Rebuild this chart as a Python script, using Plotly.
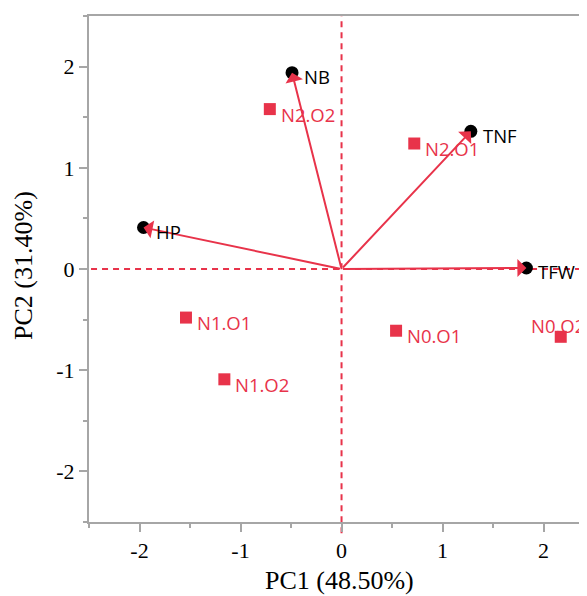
import plotly.graph_objects as go

# Loadings (variables)
var_names = ["NB", "TNF", "HP", "TFW"]
var_pc1 = [-0.49, 1.28, -1.96, 1.83]
var_pc2 = [1.94, 1.36, 0.41, 0.01]

# Scores (samples)
smp_names = ["N2.O2", "N2.O1", "N1.O1", "N1.O2", "N0.O1", "N0.O2"]
smp_pc1 = [-0.71, 0.72, -1.54, -1.16, 0.54, 2.17]
smp_pc2 = [1.58, 1.24, -0.48, -1.09, -0.61, -0.67]

x_ticks = [-2, -1, 0, 1, 2]
y_ticks = [-2, -1, 0, 1, 2]
x_title = "PC1 (48.50%)"
y_title = "PC2 (31.40%)"

RED = "#E8334A"
GRAY = "#A6A6A6"
LABEL_FONT = "Open Sans"
SERIF = "Liberation Serif"

# label offsets in pixels (style)
smp_label_style = {"N0.O2": dict(xanchor="center", xshift=-3, yshift=11)}

fig = go.Figure()

# reference dashed lines
fig.add_shape(type="line", xref="paper", yref="y", x0=-0.018, x1=1, y0=0, y1=0,
              line=dict(color=RED, width=2, dash="6px,5px"), layer="below")
fig.add_shape(type="line", xref="x", yref="paper", x0=0, x1=0, y0=-0.022, y1=1,
              line=dict(color=RED, width=2, dash="6px,5px"), layer="below")

fig.add_trace(go.Scatter(x=var_pc1, y=var_pc2, mode="markers",
                         marker=dict(symbol="circle", size=13, color="black"),
                         hoverinfo="text", text=var_names, showlegend=False))
fig.add_trace(go.Scatter(x=smp_pc1, y=smp_pc2, mode="markers",
                         marker=dict(symbol="square", size=12, color=RED),
                         hoverinfo="text", text=smp_names, showlegend=False))

annotations = []
for n, x, y in zip(var_names, var_pc1, var_pc2):
    annotations.append(dict(x=x, y=y, ax=0, ay=0, xref="x", yref="y", axref="x", ayref="y",
                            text="", showarrow=True, arrowhead=1, arrowsize=1.5,
                            arrowwidth=2, arrowcolor=RED, standoff=0))
    annotations.append(dict(x=x, y=y, xref="x", yref="y", text=n, showarrow=False,
                            xanchor="left", yanchor="middle", xshift=10, yshift=-4,
                            font=dict(family=LABEL_FONT, size=18.5, color="black")))
for n, x, y in zip(smp_names, smp_pc1, smp_pc2):
    st = dict(xanchor="left", xshift=9, yshift=-5)
    st.update(smp_label_style.get(n, {}))
    annotations.append(dict(x=x, y=y, xref="x", yref="y", text=n, showarrow=False,
                            yanchor="middle",
                            font=dict(family=LABEL_FONT, size=18.5, color=RED), **st))

# axis titles
annotations.append(dict(x=0.5035, y=-0.1166, xref="paper", yref="paper", text=x_title,
                        showarrow=False, xanchor="center", yanchor="middle",
                        font=dict(family=SERIF, size=26, color="black")))
annotations.append(dict(x=-0.1305, y=0.506, xref="paper", yref="paper", text=y_title,
                        showarrow=False, xanchor="center", yanchor="middle", textangle=-90,
                        font=dict(family=SERIF, size=26, color="black")))

axis_common = dict(showgrid=False, zeroline=False, showline=True, linecolor=GRAY, linewidth=2,
                   automargin=False,
                   ticks="outside", ticklen=8, tickwidth=1.5, tickcolor=GRAY,
                   tickfont=dict(family=SERIF, size=22, color="black"),
                   minor=dict(dtick=0.5, ticks="outside", ticklen=4, tickcolor=GRAY, tickwidth=1.5))

# the page body adds an 8px margin, so the figure is sized/offset to compensate
fig.update_layout(
    width=579, height=588,
    margin=dict(l=81, r=0, t=8, b=74),
    plot_bgcolor="white", paper_bgcolor="white",
    xaxis=dict(range=[-2.5, 2.43], tickvals=x_ticks, ticktext=[str(v) for v in x_ticks],
               mirror=True, **axis_common),
    yaxis=dict(range=[-2.5, 2.5], tickvals=y_ticks, ticktext=[str(v) for v in y_ticks],
               **axis_common),
    annotations=annotations,
    showlegend=False,
)

fig.write_html("out.html")
